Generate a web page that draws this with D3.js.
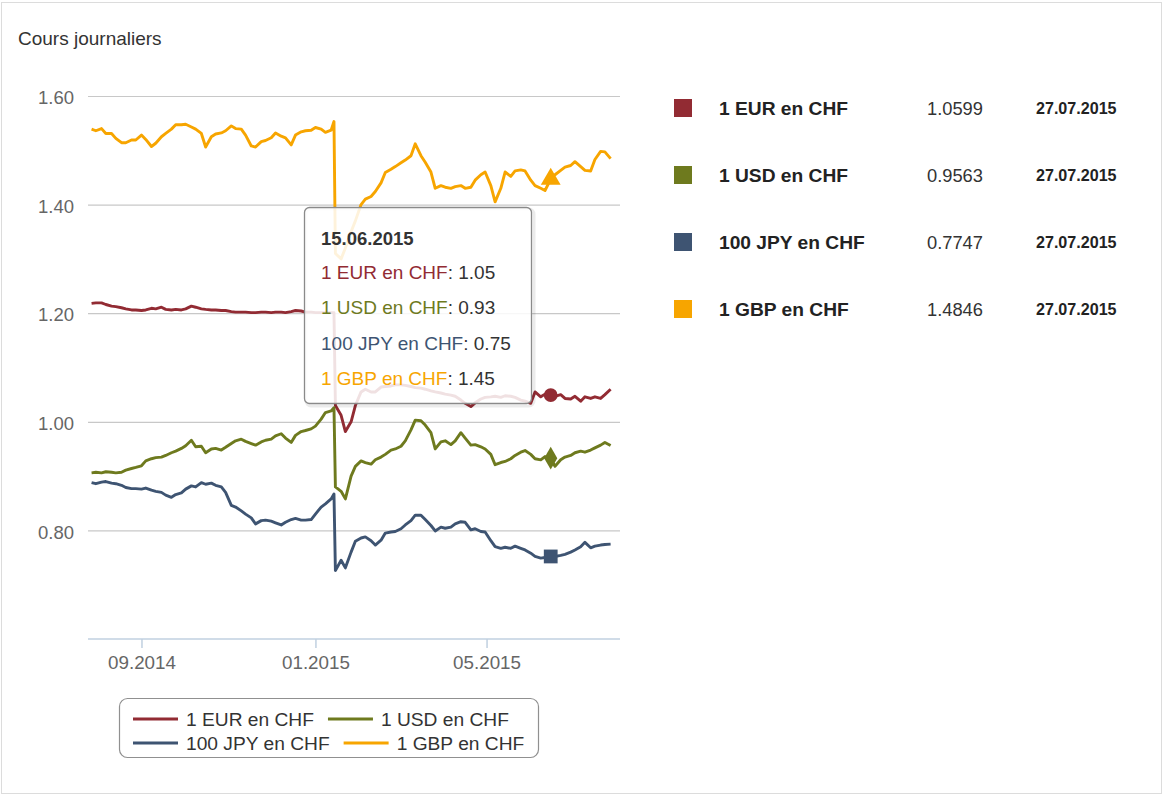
<!DOCTYPE html>
<html>
<head>
<meta charset="utf-8">
<script src="https://cdn.jsdelivr.net/npm/d3@7"></script>
<style>
  body { margin: 0; background: #fff; }
  svg { font-family: "Liberation Sans", Arial, sans-serif; display: block; }
</style>
</head>
<body>
<div class="chart"></div>
<script>
var width = 1164,
    height = 796;

// dates (Mon/Thu sampling, plus 14.01.2015 before the floor removal)
var dates = ["2014-07-28","2014-07-31","2014-08-04","2014-08-07","2014-08-11","2014-08-14","2014-08-18","2014-08-21","2014-08-25","2014-08-28",
  "2014-09-01","2014-09-04","2014-09-08","2014-09-11","2014-09-15","2014-09-18","2014-09-22","2014-09-25","2014-09-29","2014-10-02",
  "2014-10-06","2014-10-09","2014-10-13","2014-10-16","2014-10-20","2014-10-23","2014-10-27","2014-10-30","2014-11-03","2014-11-06",
  "2014-11-10","2014-11-13","2014-11-17","2014-11-20","2014-11-24","2014-11-27","2014-12-01","2014-12-04","2014-12-08","2014-12-11",
  "2014-12-15","2014-12-18","2014-12-22","2014-12-25","2014-12-29","2015-01-01","2015-01-05","2015-01-08","2015-01-12","2015-01-14",
  "2015-01-15","2015-01-19","2015-01-22","2015-01-26","2015-01-29","2015-02-02","2015-02-05","2015-02-09","2015-02-12","2015-02-16",
  "2015-02-19","2015-02-23","2015-02-26","2015-03-02","2015-03-05","2015-03-09","2015-03-12","2015-03-16","2015-03-19","2015-03-23",
  "2015-03-26","2015-03-30","2015-04-02","2015-04-06","2015-04-09","2015-04-13","2015-04-16","2015-04-20","2015-04-23","2015-04-27",
  "2015-04-30","2015-05-04","2015-05-07","2015-05-11","2015-05-14","2015-05-18","2015-05-21","2015-05-25","2015-05-28","2015-06-01",
  "2015-06-04","2015-06-08","2015-06-11","2015-06-15","2015-06-18","2015-06-22","2015-06-25","2015-06-29","2015-07-02","2015-07-06",
  "2015-07-09","2015-07-13","2015-07-16","2015-07-20","2015-07-23","2015-07-27"];

var eur = [1.218,1.219,1.219,1.216,1.213,1.212,1.210,1.208,1.206,1.206,
  1.205,1.206,1.209,1.208,1.211,1.207,1.206,1.207,1.206,1.208,
  1.213,1.211,1.208,1.207,1.206,1.206,1.205,1.205,1.203,1.202,
  1.202,1.202,1.201,1.201,1.202,1.202,1.201,1.202,1.202,1.201,
  1.203,1.205,1.204,1.202,1.202,1.201,1.201,1.201,1.201,1.201,
  1.030,1.012,0.982,1.000,1.030,1.055,1.060,1.055,1.055,1.064,
  1.065,1.066,1.068,1.068,1.067,1.065,1.063,1.062,1.060,1.057,
  1.055,1.053,1.051,1.049,1.047,1.040,1.034,1.028,1.035,1.042,
  1.045,1.046,1.047,1.045,1.048,1.047,1.045,1.040,1.038,1.034,
  1.055,1.046,1.051,1.049,1.047,1.050,1.043,1.042,1.047,1.038,
  1.046,1.043,1.046,1.043,1.050,1.0599];

var usd = [0.906,0.907,0.906,0.908,0.907,0.906,0.907,0.911,0.914,0.916,
  0.919,0.928,0.932,0.934,0.935,0.938,0.943,0.946,0.951,0.956,
  0.966,0.954,0.955,0.943,0.950,0.951,0.948,0.953,0.960,0.965,
  0.968,0.964,0.960,0.957,0.963,0.966,0.968,0.974,0.978,0.970,
  0.962,0.975,0.982,0.984,0.987,0.992,1.005,1.017,1.020,1.026,
  0.880,0.872,0.858,0.900,0.918,0.928,0.925,0.922,0.930,0.935,
  0.940,0.948,0.950,0.955,0.965,0.985,1.003,1.002,0.994,0.980,
  0.950,0.963,0.965,0.958,0.965,0.980,0.970,0.957,0.958,0.954,
  0.950,0.940,0.921,0.925,0.927,0.932,0.938,0.944,0.947,0.940,
  0.932,0.930,0.936,0.933,0.918,0.930,0.935,0.938,0.943,0.946,
  0.944,0.948,0.952,0.957,0.962,0.9563];

var jpy = [0.888,0.886,0.889,0.890,0.887,0.886,0.883,0.879,0.877,0.877,
  0.876,0.878,0.874,0.872,0.870,0.865,0.861,0.866,0.869,0.876,
  0.882,0.880,0.888,0.885,0.887,0.883,0.880,0.870,0.846,0.843,
  0.836,0.830,0.823,0.812,0.818,0.819,0.817,0.814,0.810,0.815,
  0.820,0.822,0.819,0.819,0.820,0.830,0.843,0.849,0.858,0.867,
  0.726,0.745,0.731,0.760,0.780,0.786,0.788,0.781,0.773,0.782,
  0.795,0.797,0.798,0.803,0.810,0.818,0.828,0.828,0.820,0.809,
  0.799,0.806,0.804,0.806,0.812,0.816,0.815,0.801,0.803,0.798,
  0.797,0.781,0.770,0.767,0.769,0.767,0.771,0.767,0.764,0.758,
  0.752,0.749,0.750,0.752,0.752,0.754,0.756,0.760,0.764,0.770,
  0.778,0.768,0.771,0.773,0.774,0.7747];

var gbp = [1.539,1.536,1.540,1.531,1.531,1.522,1.514,1.514,1.519,1.519,
  1.528,1.520,1.507,1.513,1.525,1.531,1.539,1.547,1.547,1.548,
  1.543,1.539,1.531,1.506,1.525,1.530,1.532,1.536,1.545,1.540,
  1.539,1.528,1.508,1.506,1.516,1.518,1.523,1.532,1.526,1.523,
  1.510,1.528,1.534,1.536,1.537,1.542,1.539,1.533,1.537,1.553,
  1.310,1.300,1.320,1.350,1.370,1.400,1.410,1.415,1.424,1.440,
  1.459,1.465,1.470,1.477,1.482,1.490,1.512,1.490,1.478,1.460,
  1.430,1.435,1.432,1.430,1.433,1.435,1.430,1.432,1.445,1.455,
  1.460,1.435,1.405,1.430,1.460,1.452,1.462,1.464,1.462,1.445,
  1.435,1.430,1.426,1.447,1.455,1.463,1.469,1.472,1.479,1.470,
  1.463,1.462,1.483,1.498,1.497,1.4846];

var names = ["1 EUR en CHF", "1 USD en CHF", "100 JPY en CHF", "1 GBP en CHF"];
var colors = ["#922b33", "#6e7a1e", "#3e5472", "#f7a500"];
var symbols = [d3.symbolCircle, d3.symbolDiamond, d3.symbolSquare, d3.symbolTriangle];
var yTicks = [0.8, 1.0, 1.2, 1.4, 1.6];
var xTicks = ["2014-09-01", "2015-01-01", "2015-05-01"];
var hoverDate = "2015-06-15";

var parse = d3.timeParse("%Y-%m-%d");
var series = [eur, usd, jpy, gbp].map(function (vals, i) {
  return {
    name: names[i],
    color: colors[i],
    values: vals.map(function (v, j) { return { date: parse(dates[j]), value: v }; })
  };
});

var svg = d3.select(".chart").append("svg")
  .attr("width", width)
  .attr("height", height);

// outer frame
svg.append("rect")
  .attr("x", 1.5).attr("y", 2.5)
  .attr("width", width - 4).attr("height", height - 5)
  .attr("fill", "#fff").attr("stroke", "#dcdcdc");

svg.append("text")
  .attr("x", 18).attr("y", 45)
  .attr("font-size", 19)
  .attr("fill", "#333")
  .text("Cours journaliers");

var x = d3.scaleTime()
  .domain([new Date(2014, 6, 25, 12), new Date(2015, 7, 2, 14)])
  .range([88, 620]);

var y = d3.scaleLinear()
  .domain([0.6, 1.6])
  .range([639, 96]);

// grid + y labels
var yAxis = svg.append("g")
  .attr("transform", "translate(88,0)")
  .call(d3.axisLeft(y).tickValues(yTicks).tickSize(-532).tickPadding(14).tickFormat(d3.format(".2f")));
yAxis.select(".domain").remove();
yAxis.selectAll(".tick line").attr("stroke", "#c8c8c8").attr("stroke-width", 1.2);
yAxis.selectAll(".tick text")
  .attr("font-size", 18.5).attr("fill", "#666").attr("dy", "0.42em")
  .attr("font-family", "Liberation Sans, Arial, sans-serif");

// x axis
var xAxis = svg.append("g")
  .attr("transform", "translate(0,639)")
  .call(d3.axisBottom(x).tickValues(xTicks.map(parse)).tickSize(9).tickPadding(8).tickFormat(d3.timeFormat("%m.%Y")));
xAxis.select(".domain").attr("stroke", "#c0d0e0").attr("stroke-width", 1.5)
  .attr("d", "M88,0H620");
xAxis.selectAll(".tick line").attr("stroke", "#c0d0e0").attr("stroke-width", 1.5);
xAxis.selectAll(".tick text")
  .attr("font-size", 18.8).attr("fill", "#666")
  .attr("font-family", "Liberation Sans, Arial, sans-serif");

// lines
var line = d3.line()
  .x(function (d) { return x(d.date); })
  .y(function (d) { return y(d.value); });

svg.append("g").selectAll("path")
  .data(series)
  .join("path")
  .attr("d", function (d) { return line(d.values); })
  .attr("fill", "none")
  .attr("stroke", function (d) { return d.color; })
  .attr("stroke-width", 2.9)
  .attr("stroke-linejoin", "round");

// hover markers
var hd = parse(hoverDate);
var hoverIdx = dates.indexOf(hoverDate);
var symSizes = [150, 150, 190, 170];
svg.append("g").selectAll("path")
  .data(series)
  .join("path")
  .attr("transform", function (d) { return "translate(" + x(hd) + "," + y(d.values[hoverIdx].value) + ")"; })
  .attr("d", function (d, i) { return d3.symbol(symbols[i], symSizes[i])(); })
  .attr("fill", function (d) { return d.color; });

// tooltip
var tip = svg.append("g");
tip.append("rect")
  .attr("x", 306).attr("y", 209).attr("width", 228).attr("height", 197).attr("rx", 5)
  .attr("fill", "none").attr("stroke", "rgba(0,0,0,0.08)").attr("stroke-width", 3);
tip.append("rect")
  .attr("x", 304.5).attr("y", 207.5).attr("width", 227).attr("height", 196).attr("rx", 5)
  .attr("fill", "rgba(255,255,255,0.86)").attr("stroke", "#8a8a8a").attr("stroke-width", 1.3);
tip.append("text")
  .attr("x", 321).attr("y", 245)
  .attr("font-size", 18.5).attr("font-weight", "bold").attr("fill", "#333")
  .text(d3.timeFormat("%d.%m.%Y")(hd));
series.forEach(function (s, i) {
  var t = tip.append("text")
    .attr("x", 321).attr("y", 279 + i * 35.4)
    .attr("font-size", 19);
  t.append("tspan").attr("fill", s.color).text(s.name);
  t.append("tspan").attr("fill", "#333").text(": " + d3.format(".2f")(s.values[hoverIdx].value));
});

// table on the right
var tbl = svg.append("g");
series.forEach(function (s, i) {
  var cy = 108 + i * 67;
  var last = s.values[s.values.length - 1];
  tbl.append("rect").attr("x", 674).attr("y", cy - 9).attr("width", 18).attr("height", 18).attr("fill", s.color);
  tbl.append("text").attr("x", 719).attr("y", cy + 7)
    .attr("font-size", 19.2).attr("font-weight", "bold").attr("fill", "#222").text(s.name);
  tbl.append("text").attr("x", 927).attr("y", cy + 7)
    .attr("font-size", 18.3).attr("fill", "#333").text(d3.format(".4f")(last.value));
  tbl.append("text").attr("x", 1036).attr("y", cy + 6)
    .attr("font-size", 16.1).attr("font-weight", "bold").attr("fill", "#222")
    .text(d3.timeFormat("%d.%m.%Y")(last.date));
});

// legend
var leg = svg.append("g");
leg.append("rect")
  .attr("x", 119.5).attr("y", 698.5).attr("width", 419).attr("height", 59).attr("rx", 8)
  .attr("fill", "none").attr("stroke", "#909090").attr("stroke-width", 1.2);
var rows = [[0, 1], [2, 3]];
rows.forEach(function (row, r) {
  var ly = 719 + r * 24;
  var lx = 133;
  row.forEach(function (i) {
    leg.append("line")
      .attr("x1", lx).attr("x2", lx + 45).attr("y1", ly).attr("y2", ly)
      .attr("stroke", colors[i]).attr("stroke-width", 3);
    var t = leg.append("text")
      .attr("x", lx + 53).attr("y", ly + 7)
      .attr("font-size", 19.2).attr("fill", "#333")
      .text(names[i]);
    lx = lx + 53 + t.node().getComputedTextLength() + 14;
  });
});
</script>
</body>
</html>
